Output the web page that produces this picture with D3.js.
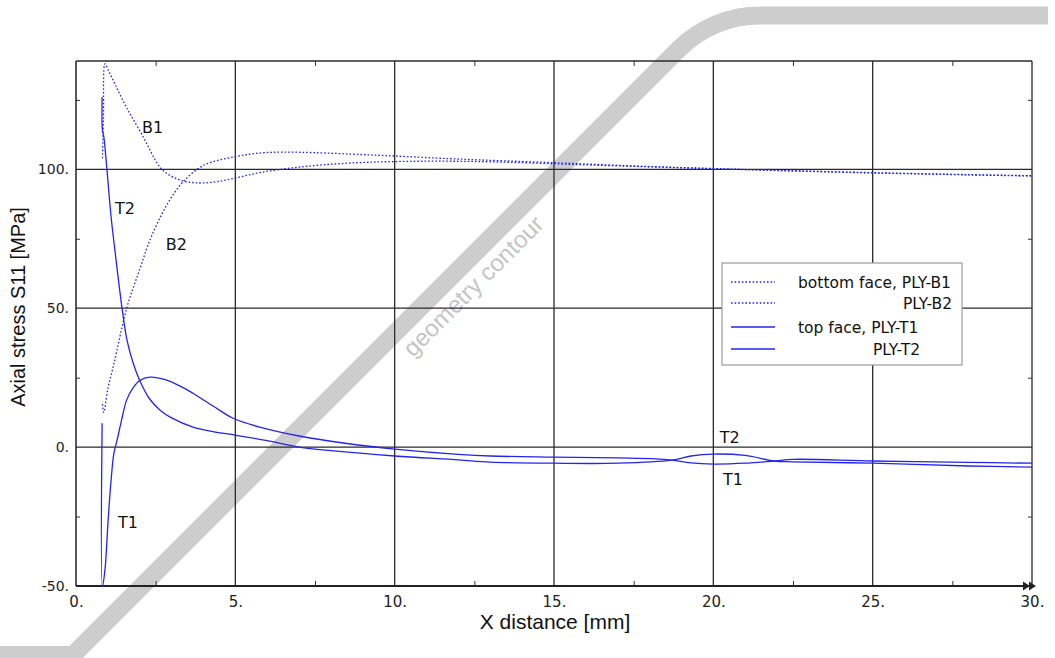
<!DOCTYPE html>
<html>
<head>
<meta charset="utf-8">
<script src="https://cdnjs.cloudflare.com/ajax/libs/d3/7.8.5/d3.min.js"></script>
<style>
  body { margin: 0; background: #fff; }
  svg { display: block; }
</style>
</head>
<body>
<svg width="1055" height="658"></svg>
<script>
// stress along the ply
var b1X = [0.83, 0.86, 0.91, 1.0, 1.25, 1.6, 2.07, 2.64, 2.95, 3.36, 3.7, 4.0, 4.5, 5.05, 5.8, 7, 8.5, 10, 12, 14, 16, 18, 20, 22, 25, 28, 30];
var b1Y = [104, 118, 138, 136, 130, 122, 112.5, 100.7, 97.8, 95.8, 95.2, 95.1, 95.7, 97, 98.9, 100.8, 102.2, 102.8, 102.9, 102.4, 101.6, 100.9, 100.2, 99.6, 98.8, 98.1, 97.7];

var b2X = [0.83, 0.87, 1.0, 1.2, 1.6, 2.0, 2.32, 2.7, 3.0, 3.36, 4.0, 5.05, 5.8, 6.5, 7.5, 9, 10, 12, 15, 18, 20, 22, 25, 28, 30];
var b2Y = [15.5, 12.5, 21, 30.5, 50.4, 64, 74.5, 84, 90, 95.5, 101.4, 104.7, 105.9, 106.2, 106, 105.3, 104.8, 103.7, 102.4, 101, 100.3, 99.6, 98.7, 98, 97.6];

var t1X = [0.82, 0.83, 0.91, 1.01, 1.1, 1.19, 1.29, 1.43, 1.59, 1.8, 2.0, 2.32, 2.8, 3.3, 3.67, 4.3, 4.93, 5.77, 7, 8.5, 10, 12, 13, 15, 17, 18.2, 18.7, 19.3, 20, 21, 21.9, 22.5, 25, 28, 30];
var t1Y = [8.6, -50, -44, -26, -12, -2.2, 2.5, 9.7, 17, 21.5, 24, 25.2, 24.3, 21.8, 19.4, 14.8, 10.4, 7.2, 4, 1.3, -0.7, -2.6, -3.2, -3.6, -3.9, -4.2, -4.7, -5.7, -6.1, -5.8, -5, -4.4, -5, -5.5, -5.8];

var t2X = [0.82, 0.83, 0.87, 0.97, 1.1, 1.22, 1.44, 1.6, 1.8, 2.0, 2.3, 2.64, 3.0, 3.67, 4.3, 5.0, 6.0, 7.0, 8.0, 10, 12, 13, 15, 17, 18.7, 19.3, 20, 21, 21.9, 22.5, 25, 28, 30];
var t2Y = [126, 114, 112, 100, 83, 71, 50.4, 38.5, 30, 24, 17.5, 13.3, 10.5, 7.2, 5.6, 4.3, 2.3, 0, -1.3, -3.2, -4.6, -5.4, -5.8, -5.8, -4.7, -3.2, -2.5, -3.0, -5.0, -5.3, -5.8, -6.8, -7.2];

var xTicks = [0, 5, 10, 15, 20, 25, 30];
var xMinor = [2.5, 7.5, 12.5, 17.5, 22.5, 27.5];
var yTicks = [-50, 0, 50, 100];
var yMinor = [-25, 25, 75, 125];

var legendNames = ['bottom face, PLY-B1', 'PLY-B2', 'top face, PLY-T1', 'PLY-T2'];
var curveNames = ['B1', 'T2', 'B2', 'T1', 'T2', 'T1'];
var curveNameX = [2.07, 1.22, 2.82, 1.32, 20.2, 20.3];
var curveNameY = [113, 84, 71, -29, 1.5, -13.5];

var blue = '#2424f0';
var svg = d3.select('svg');
var W = 1055, H = 658;
var L = 76, R = 1032, T = 61, B = 586;

var x = d3.scaleLinear().domain([0, 30]).range([L, R]);
var y = d3.scaleLinear().domain([-50, 139]).range([B, T]);

svg.append('rect').attr('width', W).attr('height', H).attr('fill', '#fff');

// grey geometry contour behind the plot
var p = d3.path();
p.moveTo(0, 655);
p.lineTo(73, 655);
p.arcTo(712.5, 15.5, 1048, 15.5, 115);
p.lineTo(1048, 15.5);
svg.append('path')
   .attr('d', p.toString())
   .attr('fill', 'none')
   .attr('stroke', '#cdcdcd')
   .attr('stroke-width', 18)
   .attr('stroke-linejoin', 'miter');

svg.append('text')
   .attr('transform', 'translate(479,292) rotate(-45)')
   .attr('text-anchor', 'middle')
   .attr('font-family', '"Liberation Sans", Arial, sans-serif')
   .attr('font-size', 24)
   .attr('fill', '#c4c4c4')
   .text('geometry contour');

// grid
var grid = svg.append('g').attr('stroke', '#2a2a2a').attr('stroke-width', 1.3);
grid.selectAll('.gx').data(xTicks.slice(1)).enter().append('line')
    .attr('x1', function (d) { return x(d); }).attr('x2', function (d) { return x(d); })
    .attr('y1', T).attr('y2', B);
grid.selectAll('.gy').data(yTicks.slice(1)).enter().append('line')
    .attr('x1', L).attr('x2', R)
    .attr('y1', function (d) { return y(d); }).attr('y2', function (d) { return y(d); });
grid.append('line').attr('x1', L).attr('x2', R).attr('y1', T).attr('y2', T);

// minor ticks
function minor(axis, tr) {
  var g = svg.append('g').attr('transform', tr).call(axis);
  g.select('.domain').remove();
  g.selectAll('line').attr('stroke', '#333');
}
minor(d3.axisBottom(x).tickValues(xMinor).tickSize(-5).tickFormat(''), 'translate(0,' + B + ')');
minor(d3.axisTop(x).tickValues(xMinor).tickSize(-5).tickFormat(''), 'translate(0,' + T + ')');
minor(d3.axisLeft(y).tickValues(yMinor).tickSize(-4).tickFormat(''), 'translate(' + L + ',0)');
minor(d3.axisRight(y).tickValues(yMinor).tickSize(-4).tickFormat(''), 'translate(' + R + ',0)');

// tick labels
var fmt = function (d) { return d + '.'; };
var gx = svg.append('g').attr('transform', 'translate(0,' + B + ')')
   .call(d3.axisBottom(x).tickValues(xTicks).tickSize(0).tickPadding(10).tickFormat(fmt));
var gy = svg.append('g').attr('transform', 'translate(' + L + ',0)')
   .call(d3.axisLeft(y).tickValues(yTicks).tickSize(0).tickPadding(7).tickFormat(fmt));
gx.selectAll('text').attr('font-size', 15);
gy.selectAll('text').attr('font-size', 14);
[gx, gy].forEach(function (g) {
  g.select('.domain').remove();
  g.selectAll('text')
   .attr('font-family', '"DejaVu Sans", sans-serif')
   .attr('fill', '#222');
});

// axis lines
svg.append('line').attr('x1', L).attr('x2', L).attr('y1', T).attr('y2', B)
   .attr('stroke', '#222').attr('stroke-width', 1.5);
svg.append('line').attr('x1', L).attr('x2', R).attr('y1', B).attr('y2', B)
   .attr('stroke', '#222').attr('stroke-width', 2.2);
[1023, 1029].forEach(function (ax) {
  svg.append('path')
     .attr('d', 'M' + ax + ',' + (B - 4.5) + 'L' + (ax + 7) + ',' + B + 'L' + ax + ',' + (B + 4.5) + 'Z')
     .attr('fill', '#222');
});

// axis titles
svg.append('text')
   .attr('x', 555).attr('y', 629)
   .attr('text-anchor', 'middle')
   .attr('font-family', '"Liberation Sans", Arial, sans-serif')
   .attr('font-size', 21)
   .attr('fill', '#111')
   .text('X distance [mm]');
svg.append('text')
   .attr('transform', 'translate(25,307) rotate(-90)')
   .attr('text-anchor', 'middle')
   .attr('font-family', '"Liberation Sans", Arial, sans-serif')
   .attr('font-size', 20)
   .attr('fill', '#111')
   .text('Axial stress S11 [MPa]');

// curves
var line = d3.line()
   .x(function (d) { return x(d[0]); })
   .y(function (d) { return y(d[1]); })
   .curve(d3.curveCatmullRom.alpha(0.5));
var series = [
  {xs: b1X, ys: b1Y, dash: '1.6,2'},
  {xs: b2X, ys: b2Y, dash: '1.6,2'},
  {xs: t1X, ys: t1Y, dash: null},
  {xs: t2X, ys: t2Y, dash: null}
];
series.forEach(function (s) {
  svg.append('path')
     .datum(d3.zip(s.xs, s.ys))
     .attr('d', line)
     .attr('fill', 'none')
     .attr('stroke', blue)
     .attr('stroke-width', 1.3)
     .attr('stroke-dasharray', s.dash);
});

// curve labels
svg.selectAll('.cl').data(curveNames).enter().append('text')
   .attr('x', function (d, i) { return x(curveNameX[i]); })
   .attr('y', function (d, i) { return y(curveNameY[i]); })
   .attr('font-family', '"DejaVu Sans", sans-serif')
   .attr('font-size', 16)
   .attr('fill', '#111')
   .text(function (d) { return d; });

// legend
var lg = svg.append('g');
lg.append('rect').attr('x', 722).attr('y', 263).attr('width', 240).attr('height', 102)
  .attr('fill', '#fff').attr('stroke', '#999').attr('stroke-width', 1.2);
var rowY = [282, 303, 327, 349];
var textEnd = [null, 952, null, 920];
legendNames.forEach(function (name, i) {
  lg.append('line').attr('x1', 731).attr('x2', 775).attr('y1', rowY[i]).attr('y2', rowY[i])
    .attr('stroke', blue).attr('stroke-width', 1.3)
    .attr('stroke-dasharray', i < 2 ? '1.6,2' : null);
  lg.append('text')
    .attr('x', textEnd[i] ? textEnd[i] : 798)
    .attr('y', rowY[i] + 5.5)
    .attr('text-anchor', textEnd[i] ? 'end' : 'start')
    .attr('font-family', '"DejaVu Sans", sans-serif')
    .attr('font-size', 15.5)
    .attr('fill', '#111')
    .text(name);
});
</script>
</body>
</html>
